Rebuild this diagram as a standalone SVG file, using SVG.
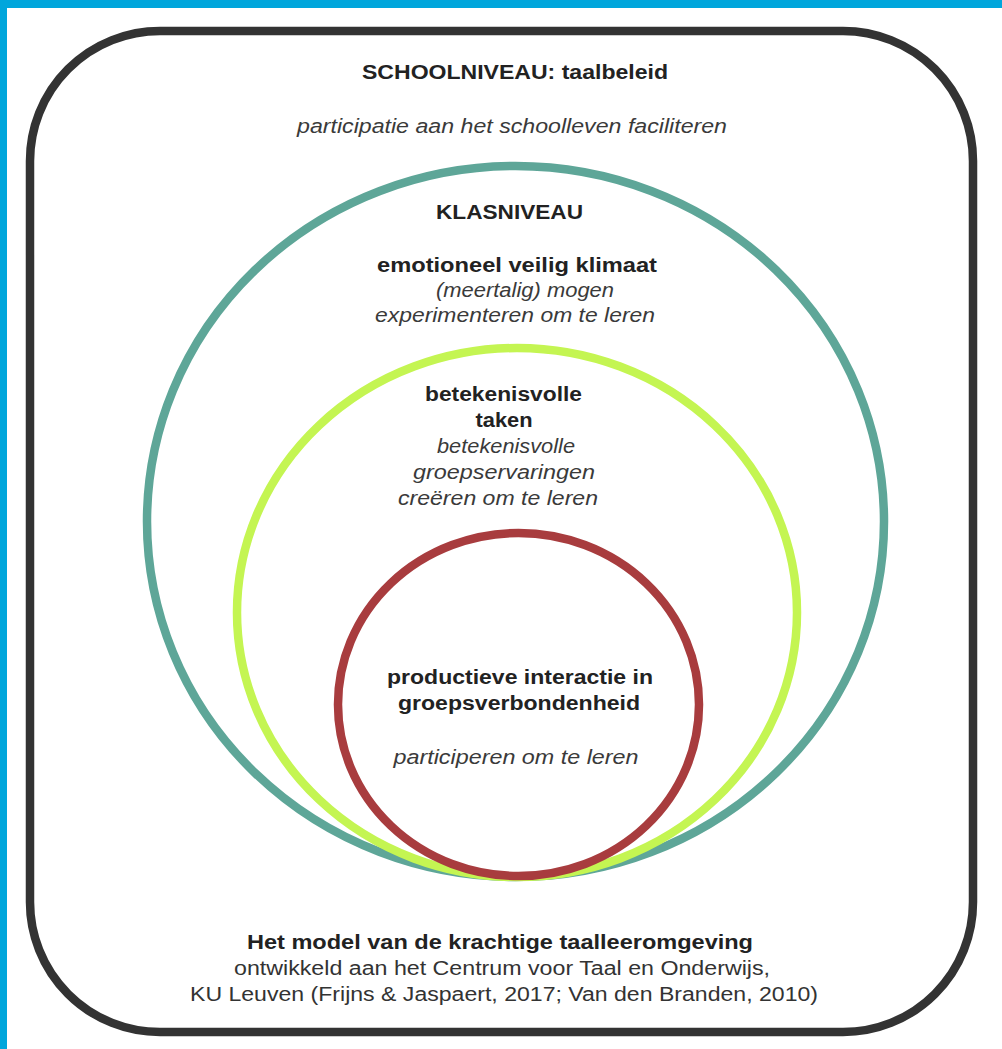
<svg xmlns="http://www.w3.org/2000/svg" width="1002" height="1049" viewBox="0 0 1002 1049">
<style>
text{font-family:"Liberation Sans",Arial,sans-serif;font-size:20px;text-anchor:middle;fill:#222}
.b{font-weight:bold}
.i{font-style:italic;fill:#3a3a3a}
.r{fill:#333}
.ring{fill:none;stroke-width:8.5}
</style>
<rect x="0" y="0" width="1002" height="1049" fill="#fff"/>
<rect x="0" y="0" width="1002" height="8" fill="#00a6dc"/>
<rect x="0" y="0" width="7" height="1049" fill="#00a6dc"/>
<g id="school">
<rect x="30" y="31" width="943" height="1001" rx="130" ry="130" fill="none" stroke="#333" stroke-width="8.5"/>
<text class="b" x="515" y="79" textLength="306" lengthAdjust="spacingAndGlyphs">SCHOOLNIVEAU: taalbeleid</text>
<text class="i" x="512" y="133" textLength="430" lengthAdjust="spacingAndGlyphs">participatie aan het schoolleven faciliteren</text>
</g>
<g id="klas">
<ellipse class="ring" cx="515.5" cy="521.5" rx="368.5" ry="355.5" stroke="#5ea698"/>
<text class="b" x="509.5" y="219" textLength="147" lengthAdjust="spacingAndGlyphs">KLASNIVEAU</text>
<text class="b" x="517" y="272" textLength="280" lengthAdjust="spacingAndGlyphs">emotioneel veilig klimaat</text>
<text class="i" x="525" y="297" textLength="178" lengthAdjust="spacingAndGlyphs">(meertalig) mogen</text>
<text class="i" x="515" y="322" textLength="280" lengthAdjust="spacingAndGlyphs">experimenteren om te leren</text>
</g>
<g id="taken">
<ellipse class="ring" cx="517" cy="612.5" rx="280" ry="264.5" stroke="#c4f552"/>
<text class="b" x="503.5" y="401" textLength="157" lengthAdjust="spacingAndGlyphs">betekenisvolle</text>
<text class="b" x="504" y="427" textLength="57" lengthAdjust="spacingAndGlyphs">taken</text>
<text class="i" x="506" y="453" textLength="138" lengthAdjust="spacingAndGlyphs">betekenisvolle</text>
<text class="i" x="504" y="479" textLength="182" lengthAdjust="spacingAndGlyphs">groepservaringen</text>
<text class="i" x="498" y="505" textLength="200" lengthAdjust="spacingAndGlyphs">creëren om te leren</text>
</g>
<g id="interactie">
<ellipse class="ring" cx="518.5" cy="704.5" rx="180.5" ry="171.5" stroke="#a83c3e"/>
<text class="b" x="520" y="684" textLength="266" lengthAdjust="spacingAndGlyphs">productieve interactie in</text>
<text class="b" x="519" y="710" textLength="242" lengthAdjust="spacingAndGlyphs">groepsverbondenheid</text>
<text class="i" x="516" y="764" textLength="245" lengthAdjust="spacingAndGlyphs">participeren om te leren</text>
</g>
<g id="caption">
<text class="b" x="500" y="949" textLength="506" lengthAdjust="spacingAndGlyphs">Het model van de krachtige taalleeromgeving</text>
<text class="r" x="502" y="975" textLength="536" lengthAdjust="spacingAndGlyphs">ontwikkeld aan het Centrum voor Taal en Onderwijs,</text>
<text class="r" x="504" y="1001" textLength="628" lengthAdjust="spacingAndGlyphs">KU Leuven (Frijns &amp; Jaspaert, 2017; Van den Branden, 2010)</text>
</g>
<g id="connectors"/>
</svg>
